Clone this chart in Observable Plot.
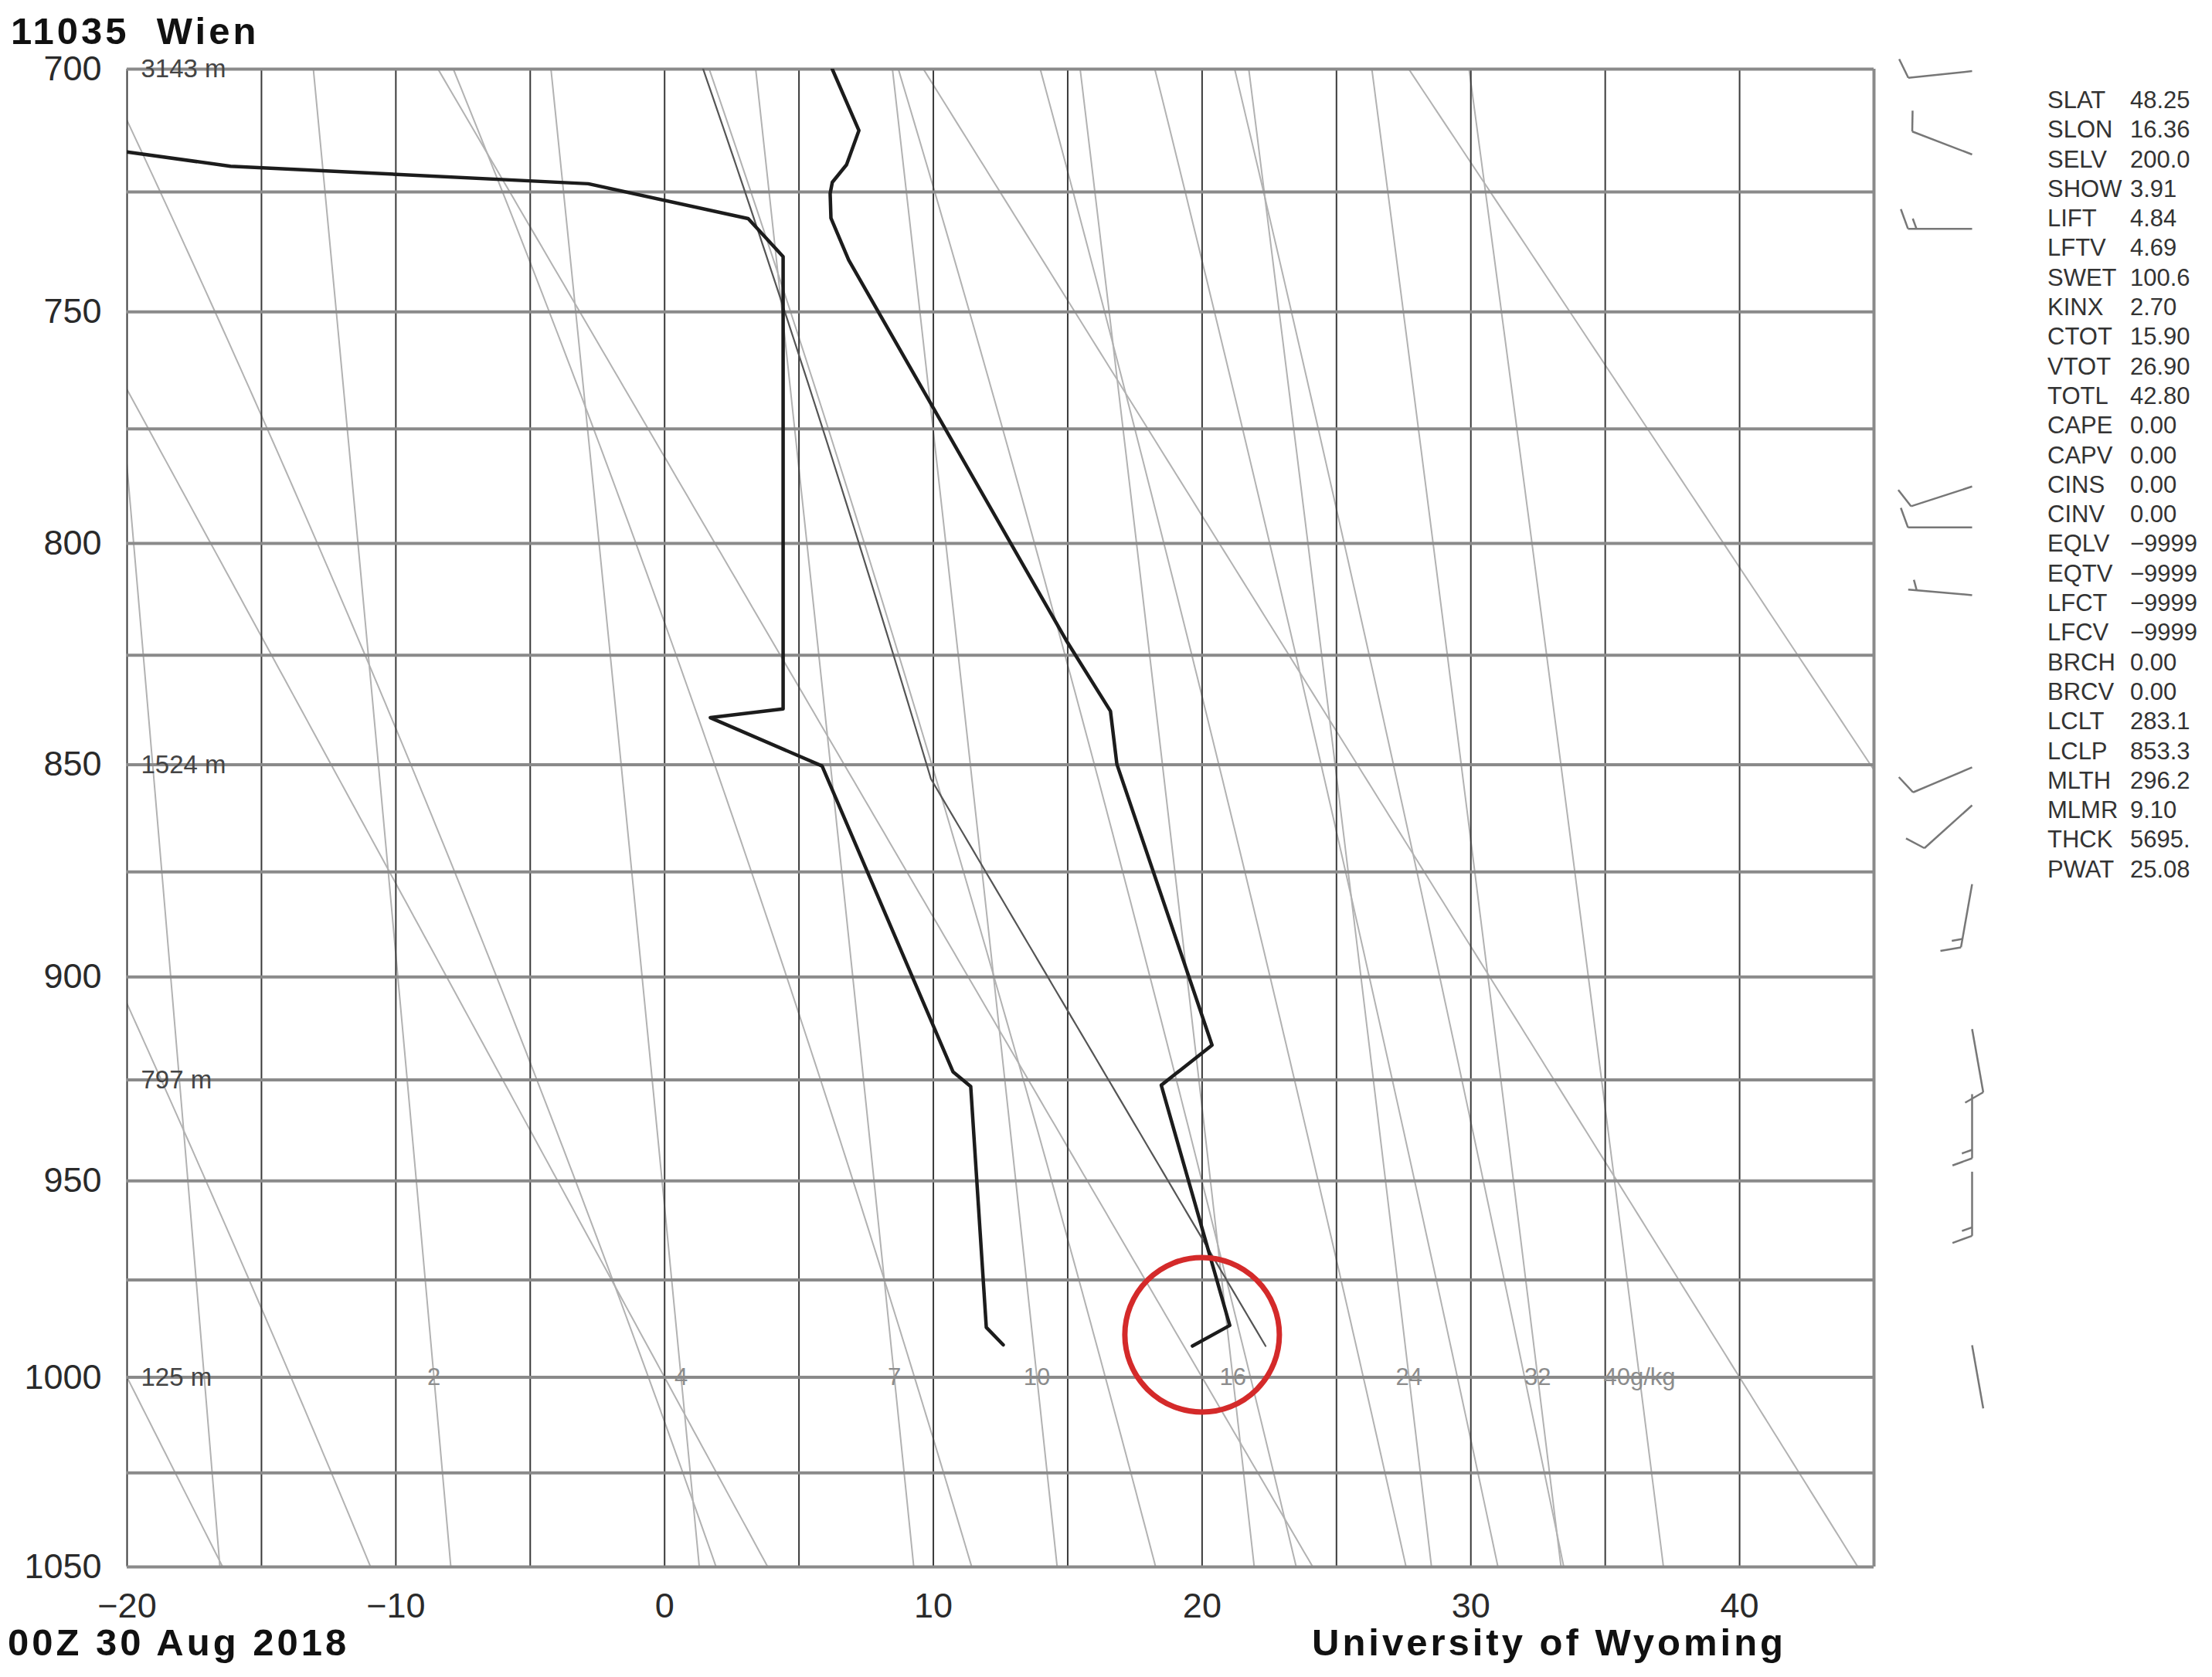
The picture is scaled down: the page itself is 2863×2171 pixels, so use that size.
<!DOCTYPE html>
<html>
<head>
<meta charset="utf-8">
<script src="https://cdn.jsdelivr.net/npm/d3@7"></script>
<script src="https://cdn.jsdelivr.net/npm/@observablehq/plot@0.6"></script>
<style>
  html, body { margin: 0; padding: 0; background: #fff; }
  #wrap { position: relative; width: 2863px; height: 2171px; overflow: hidden;
          font-family: "Liberation Sans", Arial, Helvetica, sans-serif; }
  #wrap svg { position: absolute; left: 0; top: 0; }
  .big { position: absolute; font-weight: bold; font-size: 49px; line-height: 36px;
         color: #111; white-space: pre; }
  #stats { position: absolute; left: 2650px; top: 111px; font-size: 31px;
           line-height: 38.3px; color: #333; white-space: pre; }
  #stats .n { display: inline-block; width: 107px; }
</style>
</head>
<body>
<div id="wrap"></div>
<script>
// ---------------- data ----------------
const xDomain = [-20, 45];
const yDomain = [700, 1050];
const xTicks = [-20, -10, 0, 10, 20, 30, 40];
const yTicks = [700, 750, 800, 850, 900, 950, 1000, 1050];
const isotherms = [-20, -15, -10, -5, 0, 5, 10, 15, 20, 25, 30, 35, 40];
const isobars = [700, 725, 750, 775, 800, 825, 850, 875, 900, 925, 950, 975, 1000, 1025, 1050];

// sounding: temperature
const tempP = [700, 712.4, 719.4, 723.0, 725.3, 730.4, 739.1, 821.6, 837.7, 849.9, 916.5, 926.3, 986.6, 991.9];
const tempT = [6.24, 7.23, 6.77, 6.24, 6.16, 6.19, 6.85, 14.94, 16.59, 16.83, 20.37, 18.48, 21.03, 19.64];
// sounding: dew point
const dewP = [716.8, 719.7, 723.3, 730.5, 738.4, 837.2, 839.2, 850.3, 923.0, 926.6, 987.1, 991.6];
const dewT = [-20.0, -16.15, -2.84, 3.11, 4.41, 4.41, 1.70, 5.86, 10.73, 11.39, 11.97, 12.6];

// parcel (mixed-layer) values
const parcelSurfP = 991.9;
const parcelLclP = 853.3;
const parcelThetaK = 296.2;

// winds
const windP = [700.4, 717.3, 732.6, 787.5, 796.5, 811.5, 850.6, 859.4, 877.9, 912.6, 928.5, 947.7, 991.7];
const windDir = [264, 291, 270, 252, 270, 275, 247, 228, 190, 170, 180, 180, 170];
const windKt = [10, 10, 15, 10, 10, 5, 10, 10, 15, 10, 15, 15, 2];

// background line sets
const dryTheta = [-20, 0, 20, 40, 60];                       // potential temperature, °C
const moistThetaW = [-13.9, -0.6, 9.3, 16.4, 21.8, 26.0, 29.5, 32.0]; // T at 1000 hPa, °C
const mixRatios = [1, 2, 4, 7, 10, 16, 24, 32, 40];          // g/kg
const mixLabels = ["", "2", "4", "7", "10", "16", "24", "32", "40g/kg"];

// height labels
const heightP = [700, 850, 925, 1000];
const heightLabels = ["3143 m", "1524 m", "797 m", "125 m"];

// annotation circle
const circleT = 20, circleP = 989;

// station indices
const statNames = ["SLAT","SLON","SELV","SHOW","LIFT","LFTV","SWET","KINX","CTOT","VTOT","TOTL","CAPE","CAPV","CINS","CINV","EQLV","EQTV","LFCT","LFCV","BRCH","BRCV","LCLT","LCLP","MLTH","MLMR","THCK","PWAT"];
const statValues = ["48.25","16.36","200.0","3.91","4.84","4.69","100.6","2.70","15.90","26.90","42.80","0.00","0.00","0.00","0.00","\u22129999","\u22129999","\u22129999","\u22129999","0.00","0.00","283.1","853.3","296.2","9.10","5695.","25.08"];

const titleText = "11035  Wien";
const dateText = "00Z 30 Aug 2018";
const sourceText = "University of Wyoming";

// ---------------- layout ----------------
const W = 2863, H = 2171;
const M = {left: 164, right: 438, top: 89, bottom: 143};
const KAPPA = 0.286;

// ---------------- thermodynamics ----------------
const es = Tc => 6.112 * Math.exp(17.67 * Tc / (Tc + 243.5));
function tdFromW(w, p) {
  const r = w / 1000, e = r * p / (0.622 + r), l = Math.log(e / 6.112);
  return 243.5 * l / (17.67 - l);
}
function dTdp(p, Tk) {
  const e = es(Tk - 273.15), rs = 0.622 * e / (p - e);
  const Rd = 287.04, cp = 1005.7, Lv = 2.501e6;
  return (Rd * Tk + Lv * rs) / (cp + Lv * Lv * rs * 0.622 / (Rd * Tk * Tk)) / p;
}
function moistPath(p0, Tc0, p1, step) {
  const out = [{p: p0, T: Tc0}];
  const n = Math.ceil(Math.abs(p1 - p0) / step), h = (p1 - p0) / n;
  let p = p0, T = Tc0 + 273.15;
  for (let i = 0; i < n; i++) {
    const k1 = dTdp(p, T), k2 = dTdp(p + h / 2, T + h / 2 * k1),
          k3 = dTdp(p + h / 2, T + h / 2 * k2), k4 = dTdp(p + h, T + h * k3);
    T += h / 6 * (k1 + 2 * k2 + 2 * k3 + k4); p += h;
    out.push({p, T: T - 273.15});
  }
  return out;
}
const pSamples = d3.range(660, 1092, 2);

const bg = [];
dryTheta.forEach(th => pSamples.forEach(p => bg.push({id: "d" + th, p, T: (th + 273.15) * Math.pow(p / 1000, KAPPA) - 273.15})));
mixRatios.forEach(w => pSamples.forEach(p => bg.push({id: "w" + w, p, T: tdFromW(w, p)})));
moistThetaW.forEach(tw => {
  const up = moistPath(1000, tw, 660, 2).reverse();
  const down = moistPath(1000, tw, 1092, 2).slice(1);
  up.concat(down).forEach(d => bg.push({id: "m" + tw, p: d.p, T: d.T}));
});

// parcel path
const parcel = [];
d3.range(parcelSurfP, parcelLclP, -2).concat([parcelLclP]).forEach(p =>
  parcel.push({p, T: parcelThetaK * Math.pow(p / 1000, KAPPA) - 273.15}));
const lclT = parcelThetaK * Math.pow(parcelLclP / 1000, KAPPA) - 273.15;
moistPath(parcelLclP, lclT, 690, 2).slice(1).forEach(d => parcel.push(d));

const temp = tempP.map((p, i) => ({p, T: tempT[i]}));
const dew = dewP.map((p, i) => ({p, T: dewT[i]}));

// ---------------- wind barbs (pixel geometry -> data coords) ----------------
const X0 = M.left, X1 = W - M.right, Y0 = M.top, Y1 = H - M.bottom;
const v0 = Math.pow(yDomain[0], KAPPA), v1 = Math.pow(yDomain[1], KAPPA);
const toT = px => xDomain[0] + (px - X0) / (X1 - X0) * (xDomain[1] - xDomain[0]);
const toPy = p => Y0 + (Math.pow(p, KAPPA) - v0) / (v1 - v0) * (Y1 - Y0);
const toP = py => Math.pow(v0 + (py - Y0) / (Y1 - Y0) * (v1 - v0), 1 / KAPPA);
const BARB_X = 2552, SHAFT = 83, FULL = 27, HALF = 14, GAP = 11, BARB_ANGLE = 70;
const barbs = [];
const seg = (ax, ay, bx, by) => barbs.push({x1: toT(ax), y1: toP(ay), x2: toT(bx), y2: toP(by)});
windP.forEach((p, i) => {
  const d = windDir[i] * Math.PI / 180, ux = Math.sin(d), uy = -Math.cos(d);
  const sx = BARB_X, sy = toPy(p);
  seg(sx, sy, sx + SHAFT * ux, sy + SHAFT * uy);
  const a = BARB_ANGLE * Math.PI / 180;
  const bx = ux * Math.cos(a) - uy * Math.sin(a), by = ux * Math.sin(a) + uy * Math.cos(a);
  const s = Math.round(windKt[i] / 5) * 5;
  const n10 = Math.floor(s / 10), half = s % 10 === 5;
  let dist = SHAFT;
  for (let k = 0; k < n10; k++) {
    const x = sx + dist * ux, y = sy + dist * uy;
    seg(x, y, x + FULL * bx, y + FULL * by); dist -= GAP;
  }
  if (half) {
    if (n10 === 0) dist -= GAP;
    const x = sx + dist * ux, y = sy + dist * uy;
    seg(x, y, x + HALF * bx, y + HALF * by);
  }
});

const heights = heightP.map((p, i) => ({p, label: heightLabels[i]}));
const mixText = mixRatios.map((w, i) => ({T: tdFromW(w, 1000), p: 1000, label: mixLabels[i]})).filter(d => d.label);
const fmtX = d => d < 0 ? "\u2212" + Math.abs(d) : String(d);
const fmtY = d => String(d);

// ---------------- plot ----------------
const chart = Plot.plot({
  width: W, height: H,
  marginLeft: M.left, marginRight: M.right, marginTop: M.top, marginBottom: M.bottom,
  style: {fontFamily: '"Liberation Sans", Arial, Helvetica, sans-serif', background: "transparent", overflow: "visible"},
  x: {domain: xDomain, label: null},
  y: {type: "pow", exponent: KAPPA, domain: yDomain, reverse: true, label: null},
  marks: [
    Plot.line(bg, {x: "T", y: "p", z: "id", stroke: "#b2b2b2", strokeWidth: 2, clip: true}),
    Plot.ruleX(isotherms, {stroke: "#3a3a3a", strokeWidth: 2}),
    Plot.ruleY(isobars, {stroke: "#8a8a8a", strokeWidth: 4}),
    Plot.ruleX([xDomain[1]], {stroke: "#8a8a8a", strokeWidth: 4}),
    Plot.line(parcel, {x: "T", y: "p", stroke: "#555", strokeWidth: 2.2, clip: true}),
    Plot.line(temp, {x: "T", y: "p", stroke: "#1c1c1c", strokeWidth: 4.5, clip: true}),
    Plot.line(dew, {x: "T", y: "p", stroke: "#1c1c1c", strokeWidth: 4.5, clip: true}),
    Plot.text(heights, {x: xDomain[0], y: "p", text: "label", dx: 18, textAnchor: "start",
      fontSize: 33, fill: "#444"}),
    Plot.text(mixText, {x: "T", y: "p", text: "label", fontSize: 31, fill: "#8c8c8c"}),
    Plot.link(barbs, {x1: "x1", y1: "y1", x2: "x2", y2: "y2", stroke: "#777", strokeWidth: 2.5}),
    Plot.dot([{T: circleT, p: circleP}], {x: "T", y: "p", r: 100, stroke: "#d42a2a", strokeWidth: 7, fill: "none"}),
    Plot.axisX(xTicks, {anchor: "bottom", tickSize: 0, tickPadding: 34, fontSize: 45, fill: "#2a2a2a", tickFormat: fmtX, label: null}),
    Plot.axisY(yTicks, {anchor: "left", tickSize: 0, tickPadding: 33, fontSize: 45, fill: "#2a2a2a", tickFormat: fmtY, label: null})
  ]
});

const wrap = document.getElementById("wrap");
wrap.appendChild(chart);

// line-height 36px: baseline sits ~35px below the box top
function addText(txt, left, baseline, spacing) {
  const d = document.createElement("div");
  d.className = "big"; d.textContent = txt;
  d.style.left = left + "px"; d.style.top = (baseline - 35) + "px"; d.style.letterSpacing = spacing + "px";
  wrap.appendChild(d);
}
addText(titleText, 14, 57, 4);
addText(dateText, 10, 2143, 4);
addText(sourceText, 1698, 2143, 4);

const stats = document.createElement("div");
stats.id = "stats";
statNames.forEach((n, i) => {
  const row = document.createElement("div");
  const a = document.createElement("span"); a.className = "n"; a.textContent = n;
  const b = document.createElement("span"); b.textContent = statValues[i];
  row.appendChild(a); row.appendChild(b); stats.appendChild(row);
});
wrap.appendChild(stats);
</script>
</body>
</html>
